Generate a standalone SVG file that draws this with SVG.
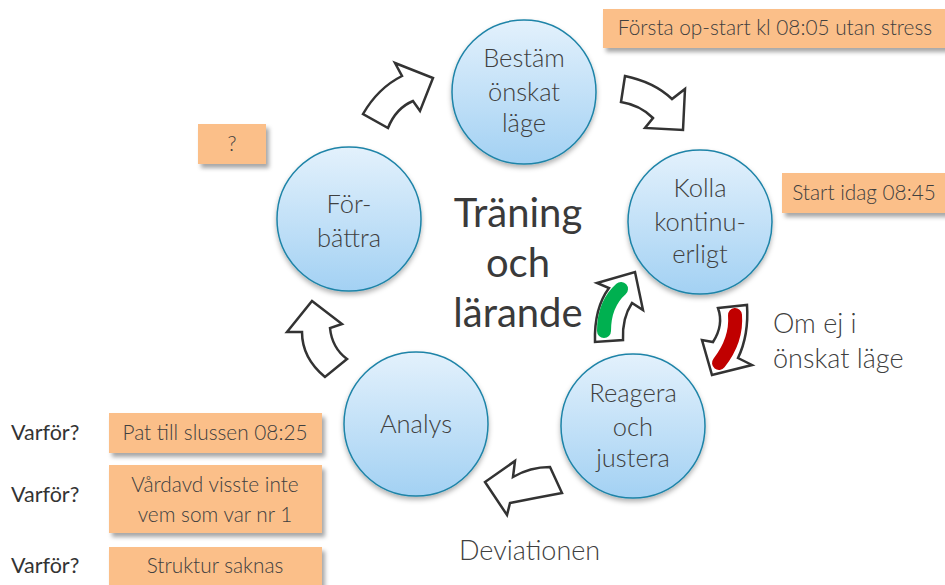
<svg xmlns="http://www.w3.org/2000/svg" width="945" height="585" viewBox="0 0 945 585">
<defs>
<linearGradient id="cg" x1="0" y1="0" x2="0" y2="1">
<stop offset="0" stop-color="#e3f1fc"/>
<stop offset="1" stop-color="#a3d1f3"/>
</linearGradient>
<filter id="cs" x="-20%" y="-20%" width="140%" height="150%">
<feDropShadow dx="0" dy="3" stdDeviation="2.5" flood-color="#000" flood-opacity="0.3"/>
</filter>
<filter id="bs" x="-10%" y="-20%" width="130%" height="160%">
<feDropShadow dx="3" dy="4" stdDeviation="2" flood-color="#000" flood-opacity="0.35"/>
</filter>
<style>
.c{fill:url(#cg);stroke:#1f84a8;stroke-width:1.5;filter:url(#cs)}
.cl{font-family:Lato,"Liberation Sans",sans-serif;font-weight:300;font-size:25.5px;fill:#404040;text-anchor:middle}
.b{fill:#fbbf89;filter:url(#bs)}
.bt{font-family:Lato,"Liberation Sans",sans-serif;font-weight:300;font-size:20.8px;fill:#404040;text-anchor:middle}
.q{font-family:Lato,"Liberation Sans",sans-serif;font-size:21.5px;fill:#333}
.big{font-family:Lato,"Liberation Sans",sans-serif;font-size:40px;fill:#3a3a3a;text-anchor:middle}
.lab{font-family:Lato,"Liberation Sans",sans-serif;font-weight:300;font-size:27px;fill:#404040}
.ar{fill:#fff;stroke:#333;stroke-width:2.5;stroke-linejoin:miter}
</style>
</defs>
<rect width="945" height="585" fill="#fff"/>

<g id="connectors">
<path class="ar" d="M363,114 Q378,88 402,76 L395,63 L433,78 L420,111 L413,101 Q396,108 388,128 Z"/>
<path class="ar" d="M625,76 Q654,82 672,99 L685,89 L683,130 L645,128 L653,118 Q640,105 621,102 Z"/>
<path class="ar" d="M595,342 Q594,308 609,288 L597,283 L635,272 L643,310 L632,303 Q622,318 623,340 Z"/>
<path d="M604,331 Q604,304 621,289" fill="none" stroke="#00b050" stroke-width="14" stroke-linecap="round"/>
<path class="ar" d="M718,308 L747,305 Q749,335 738,358 L752,365 L712,375 L702,340 L713,342 Q724,325 718,308 Z"/>
<path d="M735,315 Q737,340 719,363" fill="none" stroke="#c00000" stroke-width="14" stroke-linecap="round"/>
<path class="ar" d="M550,467 Q530,467 513,477 L515,461 L485,482 L507,515 L510,503 Q535,498 562,493 Z"/>
<path class="ar" d="M325,377 Q302,358 302,332 L287,332 L312,301 L342,324 L330,328 Q332,348 347,359 Z"/>
</g>

<g id="n-bestam">
<circle class="c" cx="524" cy="92" r="72"/>
<text class="cl" x="524" y="67">Bestäm</text>
<text class="cl" x="524" y="101">önskat</text>
<text class="cl" x="524" y="132">läge</text>
</g>
<g id="n-kolla">
<circle class="c" cx="700" cy="222" r="72"/>
<text class="cl" x="700" y="197">Kolla</text>
<text class="cl" x="700" y="231">kontinu-</text>
<text class="cl" x="700" y="263">erligt</text>
</g>
<g id="n-reagera">
<circle class="c" cx="633" cy="426" r="72"/>
<text class="cl" x="633" y="402">Reagera</text>
<text class="cl" x="633" y="436">och</text>
<text class="cl" x="633" y="467">justera</text>
</g>
<g id="n-analys">
<circle class="c" cx="416" cy="424" r="72"/>
<text class="cl" x="416" y="433">Analys</text>
</g>
<g id="n-forbattra">
<circle class="c" cx="349" cy="219" r="72"/>
<text class="cl" x="349" y="213">För-</text>
<text class="cl" x="349" y="247">bättra</text>
</g>

<g id="center">
<text class="big" x="518" y="227">Träning</text>
<text class="big" x="518" y="277">och</text>
<text class="big" x="518" y="327">lärande</text>
</g>

<g id="box-forsta">
<rect class="b" x="603" y="9" width="345" height="39"/>
<text class="bt" x="775" y="35">Första op-start kl 08:05 utan stress</text>
</g>
<g id="box-start">
<rect class="b" x="782" y="173" width="166" height="40"/>
<text class="bt" x="864" y="200">Start idag 08:45</text>
</g>
<g id="box-q">
<rect class="b" x="198" y="124" width="68" height="40"/>
<text class="bt" x="232" y="151">?</text>
</g>
<g id="box-pat">
<rect class="b" x="109" y="413" width="213" height="40"/>
<text class="bt" x="215" y="440">Pat till slussen 08:25</text>
</g>
<g id="box-vardavd">
<rect class="b" x="109" y="465" width="213" height="68"/>
<text class="bt" x="215" y="492">Vårdavd visste inte</text>
<text class="bt" x="215" y="522">vem som var nr 1</text>
</g>
<g id="box-struktur">
<rect class="b" x="109" y="547" width="213" height="45"/>
<text class="bt" x="215" y="573">Struktur saknas</text>
</g>

<g id="labels">
<text class="q" x="11" y="440">Varför?</text>
<text class="q" x="11" y="502">Varför?</text>
<text class="q" x="11" y="573">Varför?</text>
<text class="lab" x="773" y="333">Om ej i</text>
<text class="lab" x="773" y="368">önskat läge</text>
<text class="lab" x="459" y="560">Deviationen</text>
</g>
</svg>
